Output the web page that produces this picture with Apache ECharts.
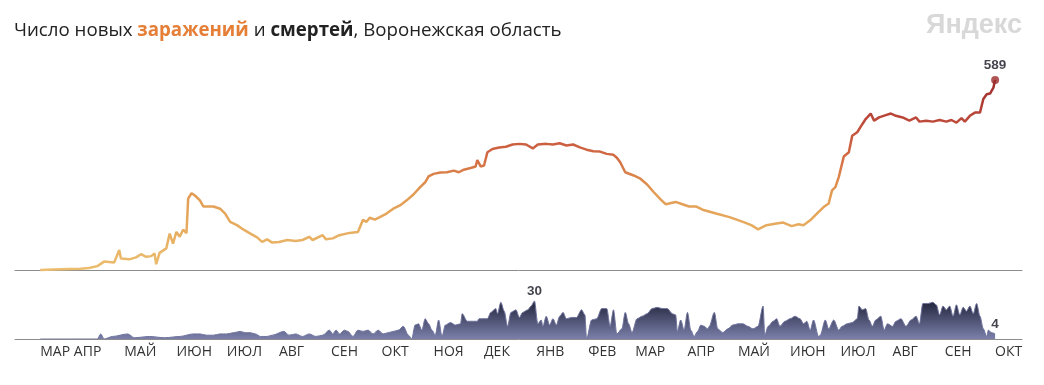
<!DOCTYPE html>
<html><head><meta charset="utf-8">
<script src="https://cdn.jsdelivr.net/npm/echarts@6/dist/echarts.min.js"></script>
<style>html,body{margin:0;padding:0;background:#fff}#c{width:1044px;height:385px}</style>
</head><body><div id="c"></div><script>
const monthNames = ['ЯНВ','ФЕВ','МАР','АПР','МАЙ','ИЮН','ИЮЛ','АВГ','СЕН','ОКТ','НОЯ','ДЕК'];
const tickDates = ['2020-03-12','2020-04-01','2020-05-01','2020-06-01','2020-07-01','2020-08-01','2020-09-01','2020-10-01','2020-11-01','2020-12-01','2021-01-01','2021-02-01','2021-03-01','2021-04-01','2021-05-01','2021-06-01','2021-07-01','2021-08-01','2021-09-01','2021-10-01'];

const casesDates = ['2020-03-12','2020-03-24','2020-04-05','2020-04-10','2020-04-15','2020-04-19','2020-04-25','2020-04-28','2020-04-29','2020-05-04','2020-05-08','2020-05-11','2020-05-14','2020-05-17','2020-05-19','2020-05-20','2020-05-22','2020-05-26','2020-05-28','2020-05-30','2020-06-01','2020-06-03','2020-06-05','2020-06-07','2020-06-08','2020-06-10','2020-06-12','2020-06-15','2020-06-17','2020-06-23','2020-06-27','2020-06-30','2020-07-03','2020-07-07','2020-07-11','2020-07-15','2020-07-19','2020-07-22','2020-07-25','2020-07-28','2020-08-01','2020-08-06','2020-08-11','2020-08-15','2020-08-19','2020-08-21','2020-08-27','2020-08-29','2020-09-02','2020-09-06','2020-09-12','2020-09-17','2020-09-20','2020-09-22','2020-09-24','2020-09-27','2020-09-30','2020-10-04','2020-10-08','2020-10-12','2020-10-16','2020-10-20','2020-10-24','2020-10-27','2020-10-29','2020-11-01','2020-11-05','2020-11-09','2020-11-13','2020-11-16','2020-11-19','2020-11-23','2020-11-26','2020-11-27','2020-11-29','2020-12-01','2020-12-03','2020-12-06','2020-12-10','2020-12-14','2020-12-18','2020-12-22','2020-12-26','2020-12-30','2021-01-02','2021-01-07','2021-01-11','2021-01-15','2021-01-19','2021-01-23','2021-01-27','2021-01-31','2021-02-04','2021-02-08','2021-02-12','2021-02-16','2021-02-18','2021-02-20','2021-02-23','2021-02-28','2021-03-04','2021-03-08','2021-03-12','2021-03-16','2021-03-19','2021-03-21','2021-03-25','2021-03-29','2021-04-02','2021-04-06','2021-04-10','2021-04-18','2021-04-26','2021-05-04','2021-05-09','2021-05-13','2021-05-18','2021-05-24','2021-05-28','2021-06-02','2021-06-06','2021-06-09','2021-06-13','2021-06-17','2021-06-21','2021-06-24','2021-06-26','2021-06-28','2021-06-30','2021-07-03','2021-07-06','2021-07-08','2021-07-11','2021-07-14','2021-07-16','2021-07-19','2021-07-21','2021-07-24','2021-07-28','2021-07-31','2021-08-03','2021-08-07','2021-08-11','2021-08-15','2021-08-17','2021-08-21','2021-08-25','2021-08-29','2021-09-02','2021-09-05','2021-09-08','2021-09-11','2021-09-13','2021-09-16','2021-09-19','2021-09-22','2021-09-24','2021-09-26','2021-09-28','2021-09-30','2021-10-01'];
const casesValues = [0,2,4,6,12,26,23,62,36,33,39,49,41,43,51,18,53,67,113,82,118,103,125,114,221,238,231,216,197,197,190,175,149,139,125,113,101,87,95,85,87,93,90,93,103,93,108,95,98,108,115,118,156,149,162,156,164,175,190,200,216,234,257,272,290,298,302,303,308,303,311,316,321,341,321,324,365,375,380,382,389,391,389,377,389,391,389,393,386,389,380,373,368,367,360,357,348,334,303,293,283,265,241,219,204,206,211,204,197,197,187,175,164,149,139,126,139,144,147,136,142,139,154,175,195,206,247,257,288,352,365,416,427,452,468,485,463,473,480,485,478,473,463,473,460,463,460,465,460,465,457,471,460,478,488,488,530,545,547,565,589];

const deathDates = ['2020-03-12','2020-03-30','2020-04-15','2020-04-17','2020-04-19','2020-04-24','2020-05-03','2020-05-07','2020-05-16','2020-05-25','2020-06-03','2020-06-11','2020-06-15','2020-06-19','2020-06-23','2020-06-27','2020-07-01','2020-07-05','2020-07-09','2020-07-12','2020-07-15','2020-07-18','2020-07-21','2020-07-25','2020-07-28','2020-08-04','2020-08-07','2020-08-11','2020-08-15','2020-08-19','2020-08-23','2020-08-27','2020-08-31','2020-09-02','2020-09-04','2020-09-06','2020-09-09','2020-09-11','2020-09-14','2020-09-17','2020-09-20','2020-09-23','2020-09-26','2020-09-29','2020-10-02','2020-10-05','2020-10-08','2020-10-11','2020-10-14','2020-10-17','2020-10-19','2020-10-21','2020-10-23','2020-10-25','2020-10-27','2020-10-29','2020-10-31','2020-11-02','2020-11-04','2020-11-06','2020-11-08','2020-11-11','2020-11-14','2020-11-17','2020-11-18','2020-11-21','2020-11-24','2020-11-27','2020-11-28','2020-12-01','2020-12-03','2020-12-05','2020-12-08','2020-12-09','2020-12-11','2020-12-13','2020-12-15','2020-12-17','2020-12-20','2020-12-22','2020-12-24','2020-12-27','2020-12-29','2020-12-31','2021-01-02','2021-01-04','2021-01-05','2021-01-07','2021-01-09','2021-01-11','2021-01-13','2021-01-15','2021-01-17','2021-01-19','2021-01-22','2021-01-25','2021-01-28','2021-01-30','2021-01-31','2021-02-03','2021-02-06','2021-02-09','2021-02-12','2021-02-14','2021-02-16','2021-02-18','2021-02-21','2021-02-23','2021-02-25','2021-02-27','2021-03-02','2021-03-05','2021-03-08','2021-03-11','2021-03-14','2021-03-17','2021-03-20','2021-03-23','2021-03-25','2021-03-26','2021-03-28','2021-03-30','2021-04-01','2021-04-03','2021-04-05','2021-04-07','2021-04-09','2021-04-11','2021-04-13','2021-04-14','2021-04-17','2021-04-19','2021-04-22','2021-04-25','2021-04-28','2021-05-01','2021-05-04','2021-05-07','2021-05-10','2021-05-13','2021-05-16','2021-05-17','2021-05-19','2021-05-22','2021-05-24','2021-05-26','2021-05-29','2021-06-01','2021-06-04','2021-06-07','2021-06-09','2021-06-11','2021-06-13','2021-06-15','2021-06-18','2021-06-19','2021-06-22','2021-06-24','2021-06-27','2021-06-30','2021-07-02','2021-07-05','2021-07-08','2021-07-11','2021-07-12','2021-07-14','2021-07-16','2021-07-18','2021-07-20','2021-07-22','2021-07-25','2021-07-27','2021-07-29','2021-08-01','2021-08-03','2021-08-06','2021-08-09','2021-08-12','2021-08-15','2021-08-17','2021-08-19','2021-08-22','2021-08-25','2021-08-27','2021-08-29','2021-08-31','2021-09-02','2021-09-04','2021-09-06','2021-09-08','2021-09-10','2021-09-12','2021-09-14','2021-09-16','2021-09-18','2021-09-20','2021-09-22','2021-09-24','2021-09-26','2021-09-27','2021-09-29','2021-10-01'];
const deathValues = [0,0,0,4,0,2,4,1,2,1,2,4,4,3,3,4,4,5,6,5,5,4,2,2,3,6,3,4,2,4,2,3,7,4,7,4,7,6,2,7,6,7,4,7,4,5,6,7,10,3,0,11,12,7,16,12,7,3,15,2,11,13,11,12,20,14,14,14,16,16,16,21,24,20,29,22,10,21,23,17,21,23,26,30,12,15,10,18,11,16,11,18,21,16,17,17,23,19,0,15,16,24,24,10,23,4,8,21,12,5,16,18,20,24,25,24,24,20,19,6,15,7,21,7,2,6,11,10,8,10,21,8,5,8,11,12,12,10,8,10,26,3,10,14,16,10,14,16,18,16,12,14,7,15,2,3,15,8,15,7,10,12,13,16,26,23,24,15,10,15,18,7,12,10,14,16,10,15,18,12,28,28,29,27,19,26,23,26,18,27,19,25,22,26,20,28,18,8,2,7,5,4];

function ts(s){const p=s.split('-').map(Number);return Date.UTC(p[0],p[1]-1,p[2]);}
const FONT = '"Open Sans", "Noto Sans", sans-serif';
const casesData = casesDates.map((d,i)=>[ts(d),casesValues[i]]);
const deathData = deathDates.map((d,i)=>[ts(d),deathValues[i]]);
const lastC = casesData.length-1, lastD = deathData.length-1;
let maxD = 0; deathValues.forEach((v,i)=>{ if(v>deathValues[maxD]) maxD=i; });
const xMin = ts('2020-02-26'), xMax = ts('2021-10-17');
const LBL = {show:true, position:'top', formatter:p=>p.value[1], fontFamily:'"Liberation Sans", Arial, sans-serif', fontWeight:'bold', fontSize:13.5, color:'#141420'};

const chart = echarts.init(document.getElementById('c'), null, {renderer:'canvas'});
const xBase = {type:'value', min:xMin, max:xMax, axisTick:{show:false}, splitLine:{show:false},
  axisLine:{onZero:false, lineStyle:{color:'#8c8c8c', width:1}}};
chart.setOption({
  animation:false,
  backgroundColor:'#fff',
  title:{left:14, top:21, padding:0, text:'{a|Число новых }{b|заражений}{a| и }{c|смертей}{a|, Воронежская область}',
    textStyle:{fontWeight:'normal', rich:{
      a:{fontFamily:FONT, fontSize:18.7, color:'#222', fontWeight:'normal'},
      b:{fontFamily:FONT, fontSize:18.7, color:'#e57e36', fontWeight:'bold'},
      c:{fontFamily:FONT, fontSize:18.7, color:'#222', fontWeight:'bold'}}}},
  graphic:[{type:'text', left:926, top:12, style:{text:'Яндекс', font:'bold 27px "Liberation Sans", Arial, sans-serif', fill:'#d8d8d8'}}],
  grid:[{left:15, right:22, top:80, height:190},{left:15, right:22, top:301, height:38}],
  xAxis:[Object.assign({gridIndex:0, axisLabel:{show:false}}, xBase),
         Object.assign({gridIndex:1, axisLabel:{customValues:tickDates.map(ts), formatter:v=>monthNames[new Date(v).getUTCMonth()],
           align:'left', margin:6, fontSize:14, color:'#333', fontFamily:FONT, showMinLabel:true, showMaxLabel:true}}, xBase)],
  yAxis:[{type:'value', gridIndex:0, min:0, max:589, show:false},{type:'value', gridIndex:1, min:0, max:30, show:false}],
  visualMap:{type:'continuous', show:false, seriesIndex:0, dimension:1, min:0, max:589,
    inRange:{color:['#ecbd6e','#e7ae62','#e29b53','#d26a44','#bb4739','#9c2a2b']}},
  series:[
    {type:'line', xAxisIndex:0, yAxisIndex:0, data:casesData, showSymbol:false, clip:false,
      lineStyle:{width:2.5}},
    {type:'scatter', xAxisIndex:0, yAxisIndex:0, data:[casesData[lastC]], symbol:'circle', symbolSize:8,
      itemStyle:{color:'#9c2a2b'}, label:Object.assign({distance:4}, LBL)},
    {type:'line', xAxisIndex:1, yAxisIndex:1, data:deathData, showSymbol:false, smooth:0.3, smoothMonotone:'x',
      lineStyle:{width:1, color:'#6f739d'},
      areaStyle:{opacity:1, color:new echarts.graphic.LinearGradient(0,0,0,1,[{offset:0,color:'#22243a'},{offset:1,color:'#7b80ab'}])}},
    {type:'scatter', xAxisIndex:1, yAxisIndex:1, data:[deathData[maxD], deathData[lastD]], symbolSize:0,
      label:Object.assign({distance:3}, LBL)}
  ]
});
</script></body></html>
